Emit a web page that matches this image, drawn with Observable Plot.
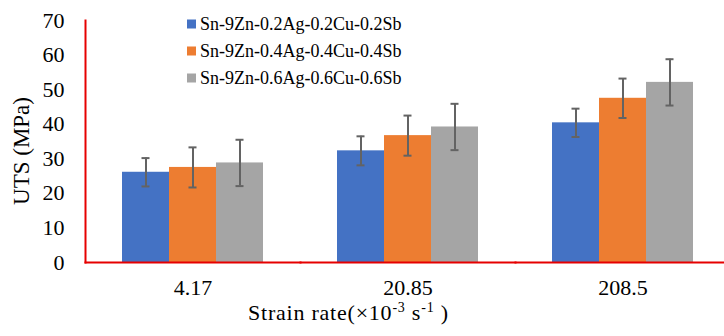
<!DOCTYPE html>
<html>
<head>
<meta charset="utf-8">
<script src="https://cdn.jsdelivr.net/npm/d3@7"></script>
<script src="https://cdn.jsdelivr.net/npm/@observablehq/plot@0.6"></script>
<style>
  html, body { margin: 0; padding: 0; background: #fff; }
  #wrap { position: relative; width: 724px; height: 336px; overflow: hidden; }
</style>
</head>
<body>
<div id="wrap"></div>
<script>
const rates = ["4.17", "20.85", "208.5"];
const seriesNames = ["Sn-9Zn-0.2Ag-0.2Cu-0.2Sb", "Sn-9Zn-0.4Ag-0.4Cu-0.4Sb", "Sn-9Zn-0.6Ag-0.6Cu-0.6Sb"];
const colors = ["#4472C4", "#ED7D31", "#A5A5A5"];
const uts1 = [26.1, 32.3, 40.4];
const uts2 = [27.5, 36.7, 47.5];
const uts3 = [28.8, 39.2, 52.1];
const err1 = [4.1, 4.2, 4.1];
const err2 = [5.8, 5.8, 5.7];
const err3 = [6.7, 6.7, 6.7];
const yTicks = [0, 10, 20, 30, 40, 50, 60, 70];

const vals = [uts1, uts2, uts3];
const errs = [err1, err2, err3];
const data = [];
seriesNames.forEach((s, i) => rates.forEach((r, j) => {
  data.push({rate: r, series: s, value: vals[i][j], lo: vals[i][j] - errs[i][j], hi: vals[i][j] + errs[i][j]});
}));

const font = "'Liberation Serif', serif";
const red = "#e60000";
const errColor = "#636363";

const chart = Plot.plot({
  width: 724,
  height: 336,
  marginLeft: 84,
  marginRight: 0,
  marginTop: 20,
  marginBottom: 74,
  style: {fontFamily: font, fontSize: "22px", color: "#000", background: "#fff"},
  fx: {domain: rates, range: [84, 731], padding: 0, label: null},
  x: {domain: seriesNames, paddingInner: 0, paddingOuter: 0.747, axis: null},
  y: {domain: [0, 70], label: null},
  color: {domain: seriesNames, range: colors},
  marks: [
    Plot.axisFx({anchor: "bottom", tickSize: 0, tickPadding: 17, label: null, fontSize: 22}),
    Plot.axisY({ticks: yTicks, tickSize: 0, tickPadding: 21, label: null, fontSize: 22}),
    Plot.barY(data, {fx: "rate", x: "series", y: "value", fill: "series"}),
    Plot.ruleX(data, {fx: "rate", x: "series", y1: "lo", y2: "hi", stroke: errColor, strokeWidth: 2}),
    Plot.tickY(data, {fx: "rate", x: "series", y: "lo", stroke: errColor, strokeWidth: 2, insetLeft: 19.5, insetRight: 19.5}),
    Plot.tickY(data, {fx: "rate", x: "series", y: "hi", stroke: errColor, strokeWidth: 2, insetLeft: 19.5, insetRight: 19.5}),
    Plot.frame({anchor: "bottom", stroke: red, strokeWidth: 2}),
    Plot.frame({anchor: "left", facet: "super", stroke: red, strokeWidth: 2})
  ]
});

const wrap = document.getElementById("wrap");
wrap.appendChild(chart);

const svg = d3.select(chart);

// y-axis title
svg.append("text")
  .attr("transform", "translate(21,151) rotate(-90)")
  .attr("text-anchor", "middle")
  .attr("dy", "0.35em")
  .style("font-family", font)
  .style("font-size", "23px")
  .attr("fill", "#000")
  .text("UTS (MPa)");

// x-axis title with superscripts
const t = svg.append("text")
  .attr("x", 348).attr("y", 320)
  .attr("text-anchor", "middle")
  .attr("textLength", 200)
  .attr("lengthAdjust", "spacing")
  .style("font-family", font)
  .style("font-size", "22px")
  .attr("fill", "#000");
t.append("tspan").text("Strain rate(×10");
t.append("tspan").style("font-size", "14px").attr("dy", -8).text("-3");
t.append("tspan").attr("dy", 8).text(" s");
t.append("tspan").style("font-size", "14px").attr("dy", -8).text("-1");
t.append("tspan").attr("dy", 8).text(" )");

// legend
const lg = svg.append("g").style("font-family", font).style("font-size", "18px").attr("text-anchor", "start");
seriesNames.forEach((s, i) => {
  const yc = 24 + i * 27;
  lg.append("rect").attr("x", 187).attr("y", yc - 4.5).attr("width", 9).attr("height", 9).attr("fill", colors[i]);
  lg.append("text").attr("x", 200).attr("y", yc).attr("dy", "0.35em").attr("fill", "#000").text(s);
});
</script>
</body>
</html>
